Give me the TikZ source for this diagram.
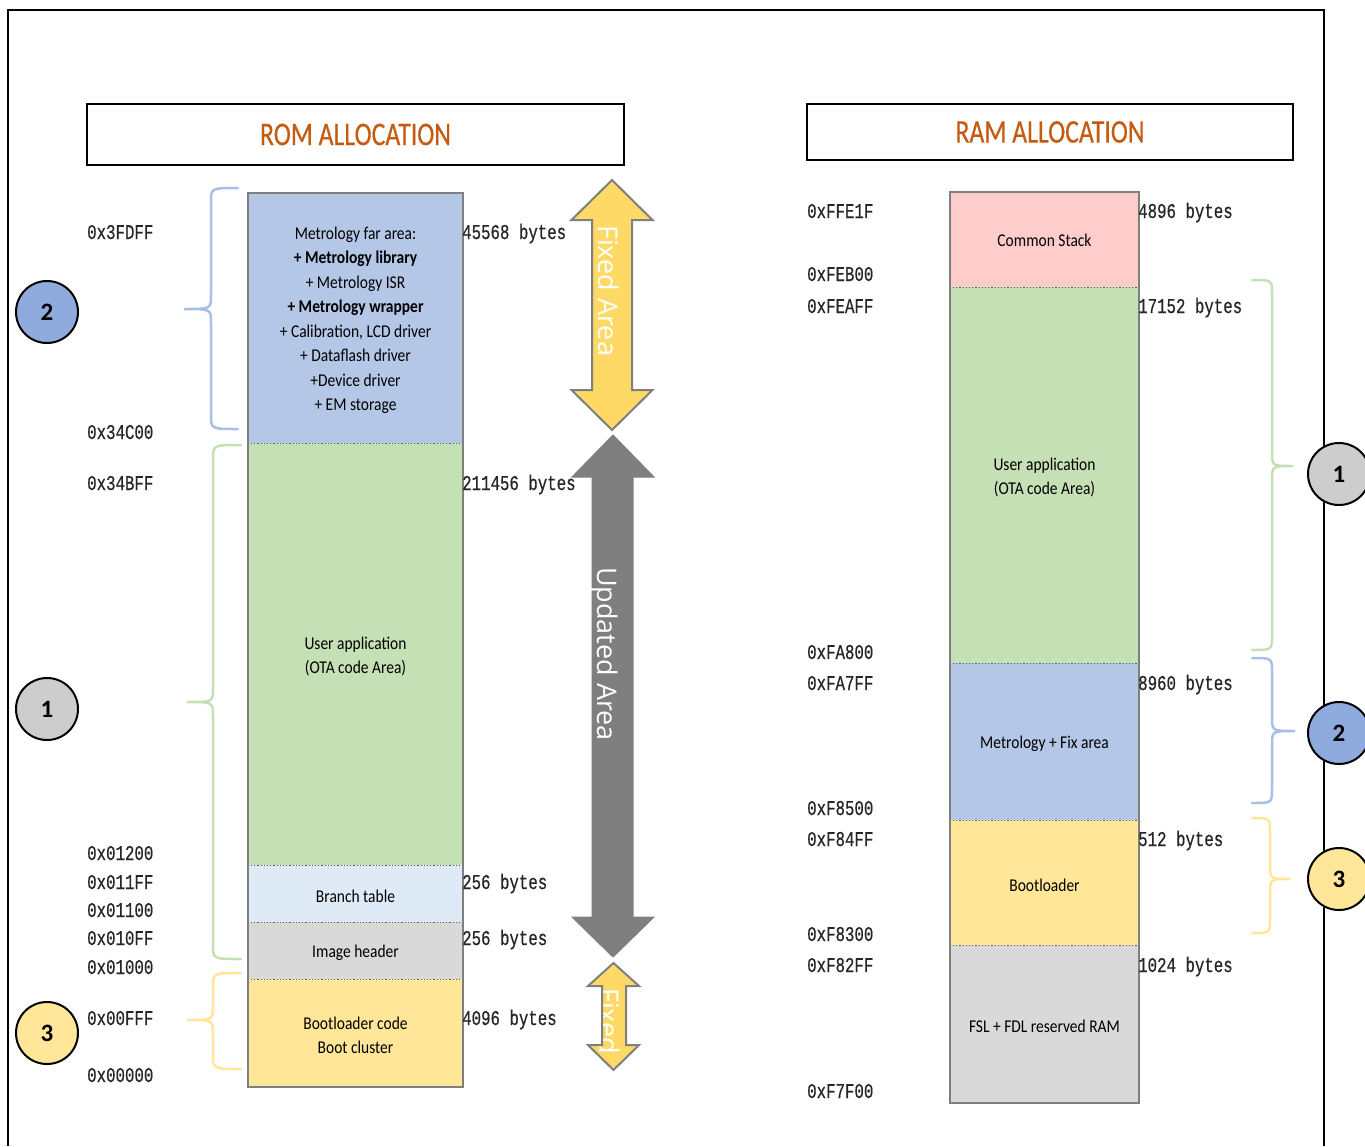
\documentclass[tikz,border=0pt]{standalone}
\usepackage{fontspec}
\newfontfamily\cb[FakeStretch=0.86]{Carlito}
\newfontfamily\ttlfont[FakeStretch=0.78,FakeBold=0.4]{Carlito}
\newfontfamily\cbnum{Carlito}
\newfontfamily\mono[FakeStretch=0.75,FakeBold=0.6]{Liberation Mono}
\newfontfamily\osans{Open Sans}
\definecolor{cblue}{HTML}{B4C7E7}
\definecolor{cgreen}{HTML}{C5E0B4}
\definecolor{clblue}{HTML}{DEEBF7}
\definecolor{cgray}{HTML}{D9D9D9}
\definecolor{cyellow}{HTML}{FFE699}
\definecolor{cpink}{HTML}{FFCCCC}
\definecolor{circblue}{HTML}{8FAADC}
\definecolor{circgray}{HTML}{CDCDCD}
\definecolor{ttlorange}{HTML}{C55A11}
\definecolor{arryellow}{HTML}{FFD966}
\definecolor{arrgray}{HTML}{7F7F7F}
\definecolor{brblue}{HTML}{A9BFE6}
\definecolor{brgreen}{HTML}{C5E0B4}
\definecolor{bryellow}{HTML}{FFE699}
\newcommand\mybrace[7]{%
  \draw[brace,#1] (#5,#2) .. controls (#6,#2) .. (#6,#2+14) -- (#6,#4-14)
    .. controls (#6,#4) .. (#7,#4) .. controls (#6,#4) .. (#6,#4+14)
    -- (#6,#3-14) .. controls (#6,#3) .. (#5,#3);}
\begin{document}
\begin{tikzpicture}[x=1pt,y=-1pt,
  blk/.style={inner sep=0pt, draw=none},
  blktext/.style={inner sep=0pt, align=center, font=\cb\fontsize{18}{24.5}\selectfont, yshift=-2.5pt},
  colborder/.style={draw=arrgray, line width=1.5pt},
  sepline/.style={draw=black!65, line width=1.2pt, dotted},
  addr/.style={anchor=base west, inner sep=0pt, font=\mono\fontsize{21}{22}\selectfont, text=black!85},
  bytes/.style={anchor=base west, inner sep=0pt, font=\mono\fontsize{21}{22}\selectfont, text=black!85},
  brace/.style={line width=2.5pt, line cap=round},
  numcirc/.style={circle, draw=black, line width=2pt, minimum size=62pt, inner sep=0pt, font=\cbnum\bfseries\fontsize{25}{25}\selectfont},
  ttlbox/.style={draw=black, line width=2pt, inner sep=0pt},
  ttl/.style={font=\ttlfont\fontsize{33}{36}\selectfont, text=ttlorange},
  arrtext/.style={rotate=-90, anchor=base west, inner sep=0pt, text=white, font=\osans\fontsize{27}{27}\selectfont}
]
\useasboundingbox (0,0) rectangle (1365,1146);
% outer frame
\draw[line width=2pt] (8,1146) -- (8,10) -- (1324,10) -- (1324,1146);

% titles
\node[ttlbox, minimum width=537pt, minimum height=61pt] (romttl) at (355.5,134.5) {};
\node[ttl] (romttltext) at (romttl.center) {ROM ALLOCATION};
\node[ttlbox, minimum width=486pt, minimum height=56pt] (ramttl) at (1050,132) {};
\node[ttl] (ramttltext) at (ramttl.center) {RAM ALLOCATION};

% ROM column
\node[blk, fill=cblue, minimum width=215pt, minimum height=250pt] (r1) at (355.5,318) {};
\node[blk, fill=cgreen, minimum width=215pt, minimum height=422pt] (r2) at (355.5,654) {};
\node[blk, fill=clblue, minimum width=215pt, minimum height=57pt] (r3) at (355.5,893.5) {};
\node[blk, fill=cgray, minimum width=215pt, minimum height=57pt] (r4) at (355.5,950.5) {};
\node[blk, fill=cyellow, minimum width=215pt, minimum height=108pt] (r5) at (355.5,1033) {};
\node[blktext] (t1) at (r1.center) {Metrology far area:\\\textbf{+ Metrology library}\\+ Metrology ISR\\\textbf{+ Metrology wrapper}\\+ Calibration, LCD driver\\+ Dataflash driver\\+Device driver\\+ EM storage};
\node[blktext] (t2) at (r2.center) {User application\\(OTA code Area)};
\node[blktext] (t3) at (r3.center) {Branch table};
\node[blktext] (t4) at (r4.center) {Image header};
\node[blktext] (t5) at (r5.center) {Bootloader code\\Boot cluster};
\draw[sepline] (r1.south west) -- (r1.south east);
\draw[sepline] (r2.south west) -- (r2.south east);
\draw[sepline] (r3.south west) -- (r3.south east);
\draw[sepline] (r4.south west) -- (r4.south east);
\draw[colborder] (r1.north west) rectangle (r5.south east);

% RAM column
\node[blk, fill=cpink, minimum width=189pt, minimum height=95pt] (m1) at (1044.5,239.5) {};
\node[blk, fill=cgreen, minimum width=189pt, minimum height=376pt] (m2) at (1044.5,475) {};
\node[blk, fill=cblue, minimum width=189pt, minimum height=157pt] (m3) at (1044.5,741.5) {};
\node[blk, fill=cyellow, minimum width=189pt, minimum height=125pt] (m4) at (1044.5,882.5) {};
\node[blk, fill=cgray, minimum width=189pt, minimum height=158pt] (m5) at (1044.5,1024) {};
\node[blktext, yshift=1.5pt] (u1) at (m1.center) {Common Stack};
\node[blktext] (u2) at (m2.center) {User application\\(OTA code Area)};
\node[blktext] (u3) at (m3.center) {Metrology + Fix area};
\node[blktext] (u4) at (m4.center) {Bootloader};
\node[blktext] (u5) at (m5.center) {FSL + FDL reserved RAM};
\draw[sepline] (m1.south west) -- (m1.south east);
\draw[sepline] (m2.south west) -- (m2.south east);
\draw[sepline] (m3.south west) -- (m3.south east);
\draw[sepline] (m4.south west) -- (m4.south east);
\draw[colborder] (m1.north west) rectangle (m5.south east);

% ROM addresses
\node[addr] (ra1) at (87,239) {0x3FDFF};
\node[addr] (ra2) at (87,439) {0x34C00};
\node[addr] (ra3) at (87,490) {0x34BFF};
\node[addr] (ra4) at (87,860) {0x01200};
\node[addr] (ra5) at (87,889) {0x011FF};
\node[addr] (ra6) at (87,917) {0x01100};
\node[addr] (ra7) at (87,945) {0x010FF};
\node[addr] (ra8) at (87,974) {0x01000};
\node[addr] (ra9) at (87,1025) {0x00FFF};
\node[addr] (ra10) at (87,1082) {0x00000};

% ROM bytes
\node[bytes] (rb1) at (462,239) {45568 bytes};
\node[bytes] (rb2) at (462,490) {211456 bytes};
\node[bytes] (rb3) at (462,889) {256 bytes};
\node[bytes] (rb4) at (462,945) {256 bytes};
\node[bytes] (rb5) at (462,1025) {4096 bytes};

% RAM addresses
\node[addr] (ma1) at (807,218) {0xFFE1F};
\node[addr] (ma2) at (807,281) {0xFEB00};
\node[addr] (ma3) at (807,313) {0xFEAFF};
\node[addr] (ma4) at (807,659) {0xFA800};
\node[addr] (ma5) at (807,690) {0xFA7FF};
\node[addr] (ma6) at (807,815) {0xF8500};
\node[addr] (ma7) at (807,846) {0xF84FF};
\node[addr] (ma8) at (807,941) {0xF8300};
\node[addr] (ma9) at (807,972) {0xF82FF};
\node[addr] (ma10) at (807,1098) {0xF7F00};

% RAM bytes
\node[bytes] (mb1) at (1138,218) {4896 bytes};
\node[bytes] (mb2) at (1138,313) {17152 bytes};
\node[bytes] (mb3) at (1138,690) {8960 bytes};
\node[bytes] (mb4) at (1138,846) {512 bytes};
\node[bytes] (mb5) at (1138,972) {1024 bytes};

% arrows
\draw[fill=arryellow, draw=arrgray, line width=2pt, line join=miter]
  (612,180) -- (652.5,220) -- (632,220) -- (632,390) -- (652.5,390) -- (612,430)
  -- (571.5,390) -- (592,390) -- (592,220) -- (571.5,220) -- cycle;
\node[arrtext] (fixedtxt) at (598,225) {Fixed Area};
\draw[fill=arrgray, draw=arrgray, line width=1pt, line join=miter]
  (613,435) -- (654,477) -- (633,477) -- (633,917) -- (654,917) -- (613,957)
  -- (572,917) -- (592,917) -- (592,477) -- (572,477) -- cycle;
\node[arrtext] (updtxt) at (597,567) {Updated Area};
\begin{scope}
\draw[fill=arryellow, draw=none]
  (613.5,963) -- (639,986) -- (626,986) -- (626,1045) -- (639,1045) -- (613.5,1070)
  -- (588,1045) -- (602,1045) -- (602,986) -- (588,986) -- cycle;
\clip (613.5,963) -- (639,986) -- (626,986) -- (626,1045) -- (639,1045) -- (613.5,1070)
  -- (588,1045) -- (602,1045) -- (602,986) -- (588,986) -- cycle;
\node[arrtext] (fixedsmall) at (599,988) {Fixed};
\end{scope}
\draw[draw=arrgray, line width=2pt, line join=miter]
  (613.5,963) -- (639,986) -- (626,986) -- (626,1045) -- (639,1045) -- (613.5,1070)
  -- (588,1045) -- (602,1045) -- (602,986) -- (588,986) -- cycle;

% braces left
\mybrace{brblue}{188}{429}{309}{238}{211}{184}
\mybrace{brgreen}{445}{959}{702}{241}{213}{187}
\mybrace{bryellow}{973}{1069}{1020}{241}{213}{187}
% braces right
\mybrace{brgreen}{280}{650}{466}{1252}{1272}{1293}
\mybrace{brblue}{658}{803}{731}{1252}{1272}{1295}
\mybrace{bryellow}{818}{933}{879}{1252}{1270}{1291}

% circles
\node[numcirc, fill=circblue] (cl2) at (47,312) {2};
\node[numcirc, fill=circgray] (cl1) at (47,709) {1};
\node[numcirc, fill=cyellow] (cl3) at (47,1033) {3};
\node[numcirc, fill=circgray] (cr1) at (1339,474) {1};
\node[numcirc, fill=circblue] (cr2) at (1339,733) {2};
\node[numcirc, fill=cyellow] (cr3) at (1339,879) {3};
\end{tikzpicture}
\end{document}
